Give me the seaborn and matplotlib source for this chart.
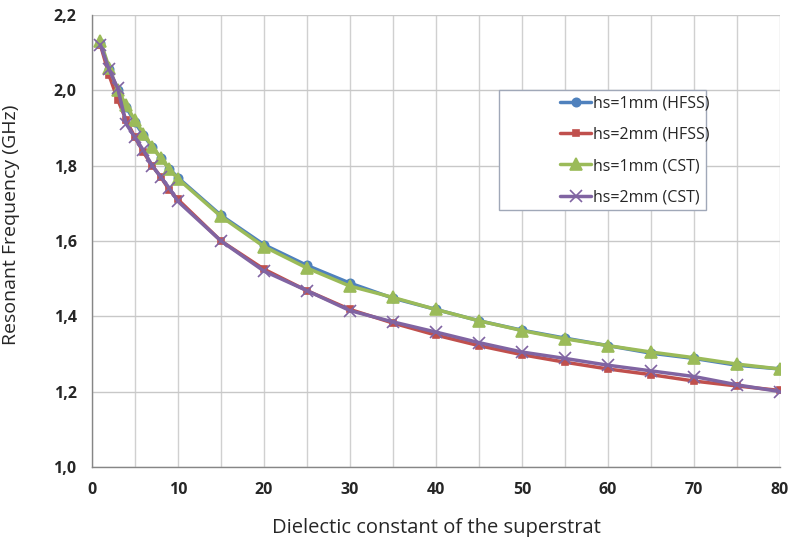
import numpy as np
import pandas as pd
import seaborn as sns
import matplotlib.pyplot as plt
from matplotlib.patches import Rectangle
from matplotlib.ticker import MultipleLocator, FuncFormatter

# dielectric constant values (x)
eps_r = [1, 2, 3, 4, 5, 6, 7, 8, 9, 10, 15, 20, 25, 30, 35, 40, 45, 50, 55, 60, 65, 70, 75, 80]

# resonant frequency (GHz)
hs1_hfss = [2.125, 2.055, 2.0, 1.955, 1.915, 1.88, 1.85, 1.82, 1.792, 1.768, 1.668, 1.59, 1.535, 1.488,
            1.448, 1.418, 1.388, 1.363, 1.342, 1.322, 1.302, 1.288, 1.27, 1.26]
hs2_hfss = [2.12, 2.04, 1.975, 1.92, 1.875, 1.835, 1.8, 1.77, 1.735, 1.71, 1.6, 1.525, 1.468, 1.418,
            1.382, 1.35, 1.322, 1.298, 1.278, 1.26, 1.245, 1.228, 1.215, 1.203]
hs1_cst = [2.13, 2.06, 2.0, 1.96, 1.92, 1.885, 1.85, 1.82, 1.79, 1.765, 1.665, 1.585, 1.528, 1.48,
           1.45, 1.418, 1.388, 1.362, 1.34, 1.322, 1.305, 1.29, 1.273, 1.26]
hs2_cst = [2.12, 2.055, 2.005, 1.91, 1.875, 1.84, 1.8, 1.77, 1.74, 1.705, 1.6, 1.52, 1.468, 1.415,
           1.385, 1.358, 1.33, 1.305, 1.288, 1.27, 1.255, 1.24, 1.218, 1.2]

labels = ['hs=1mm (HFSS)', 'hs=2mm (HFSS)', 'hs=1mm (CST)', 'hs=2mm (CST)']
series = [hs1_hfss, hs2_hfss, hs1_cst, hs2_cst]
colors = ['#4F81BD', '#C0504D', '#9BBB59', '#8064A2']
markers = ['o', 's', '^', 'x']
msizes = [6, 5, 8, 8]

sns.set_style('white')
plt.rcParams['font.family'] = ['Open Sans', 'DejaVu Sans']

fig = plt.figure(figsize=(7.92, 5.37), dpi=100)
ax = fig.add_axes([0.116, 0.1304, 0.869, 0.842])

for lab, vals, c, m, ms in zip(labels, series, colors, markers, msizes):
    df = pd.DataFrame({'x': eps_r, 'y': vals})
    sns.lineplot(data=df, x='x', y='y', ax=ax, color=c, marker=m, markersize=ms,
                 markeredgecolor=c, markeredgewidth=1.2, linewidth=2.5, label=lab)

ax.set_xlim(0, 80)
ax.set_ylim(1.0, 2.2)
ax.xaxis.set_major_locator(MultipleLocator(10))
ax.xaxis.set_minor_locator(MultipleLocator(5))
ax.yaxis.set_major_locator(MultipleLocator(0.2))
ax.yaxis.set_major_formatter(FuncFormatter(lambda v, p: f'{v:.1f}'.replace('.', ',')))
ax.grid(True, which='both', axis='x', color='#d0d0d0', linewidth=1)
ax.grid(True, which='major', axis='y', color='#c8c8c8', linewidth=1)
ax.set_axisbelow(True)

for s in ['top', 'right']:
    ax.spines[s].set_visible(False)
for s in ['left', 'bottom']:
    ax.spines[s].set_color('#868686')
    ax.spines[s].set_linewidth(1)

ax.tick_params(axis='both', which='major', direction='out', length=5, color='#868686',
               labelsize=11.5, pad=6)
ax.tick_params(axis='x', which='minor', length=0)
for t in ax.get_xticklabels() + ax.get_yticklabels():
    t.set_fontweight('bold')

ax.set_xlabel('Dielectic constant of the superstrat', fontsize=14.5, labelpad=14)
ax.set_ylabel('Resonant Frequency (GHz)', fontsize=14, labelpad=10)
ax.yaxis.set_label_coords(-0.105, 0.535)

# legend box drawn separately (entries sit on its right side, like the original)
box = Rectangle((0.592, 0.569), 0.300, 0.265, transform=ax.transAxes, facecolor='white',
                edgecolor='#a0a8b8', linewidth=1, zorder=5)
ax.add_patch(box)
leg = ax.legend(loc='upper left', bbox_to_anchor=(0.675, 0.83), frameon=False,
                fontsize=11.5, labelspacing=0.95, borderpad=0.25, handlelength=1.9,
                handletextpad=0.15, borderaxespad=0)
leg.set_zorder(6)

fig.savefig('out.png', dpi=100)
